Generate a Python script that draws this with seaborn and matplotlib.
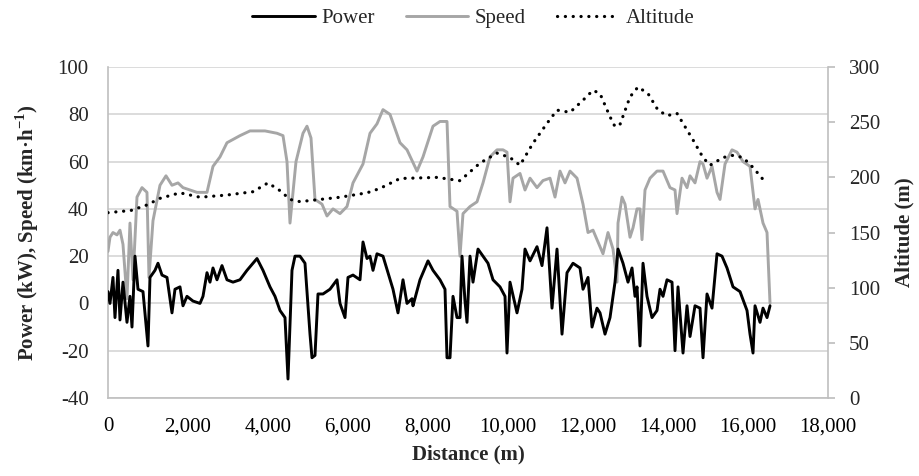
import numpy as np
import pandas as pd
import matplotlib
matplotlib.use("Agg")
import matplotlib.pyplot as plt
import seaborn as sns

# === Dados ===
speed_dist = [0, 50, 125, 225, 300, 375, 475, 550, 625, 725, 850, 975, 1025, 1125, 1300,
              1450, 1600, 1750, 1875, 2050, 2225, 2475, 2625, 2800, 2975, 3300, 3550, 3925,
              4225, 4375, 4475, 4550, 4700, 4875, 4975, 5075, 5175, 5350, 5475, 5625, 5800,
              5975, 6125, 6375, 6550, 6725, 6875, 7050, 7300, 7475, 7725, 7875, 8125, 8300,
              8475, 8550, 8725, 8800, 8875, 9050, 9225, 9375, 9550, 9725, 9875, 9975, 10050,
              10125, 10300, 10425, 10550, 10725, 10875, 11050, 11175, 11300, 11425, 11550,
              11725, 11875, 12000, 12125, 12300, 12375, 12500, 12625, 12725, 12750, 12850,
              12925, 13050, 13125, 13225, 13300, 13350, 13425, 13550, 13725, 13875, 14050,
              14175, 14225, 14350, 14475, 14550, 14675, 14800, 14875, 14975, 15100, 15225,
              15300, 15425, 15600, 15725, 15875, 16050, 16175, 16250, 16375, 16475, 16550]
speed = [22, 28, 30, 29, 31, 25, 2, 34, 10, 45, 49, 47, 11, 35, 50,
         54, 50, 51, 49, 48, 47, 47, 58, 62, 68, 71, 73, 73,
         72, 71, 60, 34, 60, 72, 75, 70, 44, 42, 37, 40, 38,
         41, 51, 59, 72, 76, 82, 80, 68, 65, 56, 62, 75, 77,
         77, 41, 39, 20, 38, 41, 43, 51, 62, 65, 65, 64, 43,
         53, 55, 48, 53, 49, 52, 53, 45, 56, 51, 56,
         53, 42, 30, 31, 24, 21, 30, 23, 9, 34, 45,
         42, 28, 32, 40, 40, 27, 48, 53, 56, 56, 49,
         48, 38, 53, 49, 54, 51, 60, 59, 53, 58, 47,
         44, 59, 65, 64, 60, 58, 40, 44, 34, 30, 0]

power_dist = [0, 50, 125, 175, 250, 300, 375, 475, 550, 600, 675, 750, 875, 1000, 1050,
              1175, 1250, 1350, 1475, 1600, 1675, 1800, 1875, 1975, 2125, 2300, 2375, 2475,
              2550, 2625, 2725, 2850, 2975, 3125, 3300, 3475, 3725, 3875, 4050, 4175, 4300,
              4425, 4500, 4600, 4675, 4800, 4925, 5050, 5100, 5175, 5250, 5375, 5550, 5725,
              5800, 5925, 6000, 6125, 6300, 6375, 6475, 6550, 6625, 6725, 6875, 7000, 7125,
              7250, 7375, 7475, 7600, 7625, 7800, 8000, 8125, 8300, 8425, 8475, 8550, 8625,
              8725, 8800, 8850, 8925, 8975, 9050, 9125, 9250, 9375, 9500, 9625, 9800, 9925,
              9975, 10050, 10225, 10350, 10425, 10550, 10725, 10850, 10975, 11100, 11225,
              11350, 11475, 11625, 11800, 11875, 12000, 12100, 12225, 12300, 12425, 12550,
              12675, 12750, 12875, 13000, 13100, 13175, 13225, 13300, 13375, 13475, 13600,
              13725, 13800, 13875, 13975, 14100, 14175, 14250, 14375, 14475, 14550, 14675,
              14800, 14875, 14975, 15100, 15225, 15350, 15475, 15625, 15800, 15975, 16050,
              16125, 16175, 16300, 16375, 16475, 16550]
power = [5, 0, 11, -6, 14, -7, 9, -8, 3, -10, 20, 6, 5, -18, 11,
         14, 17, 12, 11, -4, 6, 7, -1, 3, 1, 0, 3, 13,
         9, 15, 10, 16, 10, 9, 10, 14, 19, 14, 7, 3, -3,
         -6, -32, 14, 20, 20, 17, -13, -23, -22, 4, 4, 6, 10,
         0, -6, 11, 12, 10, 26, 19, 20, 14, 21, 20, 13, 6,
         -4, 10, 0, 2, -1, 10, 18, 14, 10, 6, -23, -23, 3,
         -6, -6, 20, 1, -8, 20, 9, 23, 20, 17, 10, 7, 3,
         -21, 9, -4, 6, 23, 18, 24, 16, 32, -2, 23,
         -13, 13, 17, 15, 6, 11, -10, -2, -4, -13, -6,
         9, 23, 17, 9, 15, 3, 7, -18, 17, 3, -6,
         -3, 6, 3, 10, 9, -20, 7, -21, -1, -14, -1,
         -2, -23, 4, -2, 21, 20, 15, 7, 5, -3, -13,
         -21, -1, -8, -2, -6, -1]

alt_dist = [0, 575, 975, 1300, 1800, 2300, 2975, 3625, 4000, 4300, 4550, 4800, 5300, 5800,
            6475, 6800, 7300, 8225, 8800, 9300, 9725, 10050, 10300, 10625, 10975, 11225,
            11550, 11875, 12125, 12300, 12550, 12675, 12800, 13050, 13250, 13500, 13750,
            13975, 14225, 14375, 14625, 14875, 15050, 15375, 15625, 15875, 16125, 16425]
altitude = [168, 170, 175, 181, 186, 182, 184, 187, 195, 188, 180, 178, 180, 182,
            186, 190, 199, 200, 197, 213, 222, 218, 211, 231, 249, 261,
            259, 270, 279, 276, 255, 246, 248, 273, 282, 276, 261,
            256, 258, 249, 234, 218, 211, 218, 220, 218, 209, 196]

x_ticks = np.arange(0, 18001, 2000)

# === Estilo ===
sns.set_theme(style="white")
plt.rcParams['font.family'] = ['Liberation Serif', 'DejaVu Serif']
plt.rcParams['mathtext.fontset'] = 'custom'
plt.rcParams['mathtext.rm'] = 'Liberation Serif'
plt.rcParams['mathtext.bf'] = 'Liberation Serif:bold'
plt.rcParams['axes.unicode_minus'] = False

df_power = pd.DataFrame({'Distance': power_dist, 'Value': power})
df_speed = pd.DataFrame({'Distance': speed_dist, 'Value': speed})
df_alt = pd.DataFrame({'Distance': alt_dist, 'Value': altitude})

fig = plt.figure(figsize=(9.19, 4.76), dpi=100)
ax = fig.add_axes([0.1175, 0.164, 0.7835, 0.695])
ax2 = ax.twinx()

sns.lineplot(data=df_power, x='Distance', y='Value', ax=ax, color='black', lw=2.1,
             label='Power', legend=False, zorder=4)
sns.lineplot(data=df_speed, x='Distance', y='Value', ax=ax, color='#a6a6a6', lw=2.1,
             label='Speed', legend=False, zorder=3)
sns.lineplot(data=df_alt, x='Distance', y='Value', ax=ax2, color='black', lw=2.3,
             label='Altitude', legend=False)
alt_line = ax2.get_lines()[0]
alt_line.set_linestyle((0, (0.05, 2.4)))
alt_line.set_dash_capstyle('round')

ax.set_xlim(0, 18000)
ax.set_ylim(-40, 100)
ax2.set_ylim(0, 300)
ax.set_xticks(x_ticks)
ax.set_xticklabels([f"{v:,}" for v in x_ticks])
ax.set_yticks(np.arange(-40, 101, 20))
ax2.set_yticks(np.arange(0, 301, 50))

ax.grid(axis='y', color='#d9d9d9', lw=1.3)
ax.set_axisbelow(True)
for sp in ['top', 'right']:
    ax.spines[sp].set_visible(False)
ax2.spines['top'].set_visible(False)
ax2.spines['left'].set_visible(False)
ax2.spines['bottom'].set_visible(False)
for sp in [ax.spines['left'], ax.spines['bottom'], ax2.spines['right']]:
    sp.set_color('#bfbfbf')
    sp.set_linewidth(1.2)

ax.tick_params(axis='x', length=0, labelsize=15, pad=14, colors='black')
ax.tick_params(axis='y', length=0, labelsize=15, pad=14)
ax2.tick_params(axis='y', length=5, color='#bfbfbf', labelsize=15, pad=10, direction='out', right=True)

ax.set_xlabel('Distance (m)', fontsize=15, fontweight='bold', labelpad=6)
ax.set_ylabel(r'Power (kW), Speed (km·h$^{\mathbf{-1}}$)', fontsize=15, fontweight='bold', labelpad=12)
ax2.set_ylabel('Altitude (m)', fontsize=15, fontweight='bold', labelpad=10)

handles = ax.get_lines()[:2] + ax2.get_lines()[:1]
fig.legend(handles, ['Power', 'Speed', 'Altitude'], loc='center', bbox_to_anchor=(0.515, 0.962),
           ncol=3, frameon=False, fontsize=15, handlelength=3.0, handletextpad=0.3,
           columnspacing=1.5)

fig.savefig('out.png', dpi=100)
